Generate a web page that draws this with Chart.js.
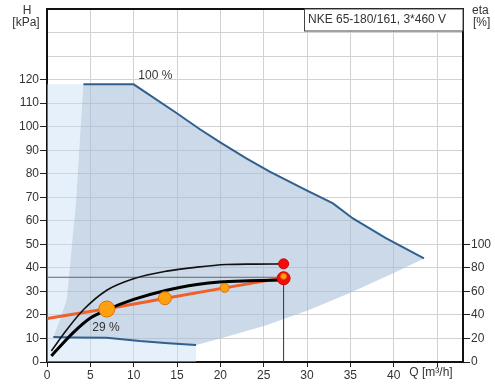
<!DOCTYPE html>
<html>
<head>
<meta charset="utf-8">
<script src="https://cdn.jsdelivr.net/npm/chart.js@4.4.1/dist/chart.umd.min.js"></script>
<style>
  html, body { margin: 0; padding: 0; background: #fff; }
  #wrap { width: 495px; height: 385px; }
</style>
</head>
<body>
<div id="wrap"><canvas id="mycanvas" width="495" height="385"></canvas></div>
<script>
// pump curve data: Q [m3/h], H [kPa]
var maxQ = [4.2, 10, 14.9, 17.6, 19.9, 23.0, 25.7, 29.9, 33.0, 35.3, 39.1, 43.5];
var maxH = [118, 118, 105.9, 99.0, 93.5, 86.5, 80.9, 73, 67.4, 61, 52.6, 44];

var minQ = [0.73, 3, 6.9, 10.7, 14, 17.2];
var minH = [10.6, 10.4, 10.3, 8.9, 8.0, 7.2];

var leftQ = [0.73, 1.5, 2.3, 2.8, 3.35, 3.8, 4.2];
var leftH = [10.6, 18, 27, 47, 68, 95, 118];

var lowQ = [43.5, 40, 35, 30, 25.2, 20, 17.2];
var lowH = [44, 37.8, 29.4, 21.8, 15.5, 10.0, 7.2];

var thinQ = [0.5, 2.3, 4.2, 6.9, 10, 13.8, 17.3, 20.7, 24, 27.3];
var thinH = [4.7, 13.8, 22.2, 30.5, 35.4, 38.6, 40.3, 41.4, 41.6, 41.7];

var thickQ = [0.5, 3, 5, 6.9, 10, 13.8, 17.3, 19.9, 23.4, 27.3];
var thickH = [2.6, 12.4, 18.7, 22.2, 26.6, 30.5, 32.9, 34.0, 34.5, 34.8];

var sysQ = [0, 6.9, 13.7, 20.5, 27.3];
var sysH = [18.5, 22.6, 27.1, 31.5, 35.8];

var dotQ = [6.9, 13.6, 20.5, 27.3];
var dotH = [22.5, 27.1, 31.5, 36.4];
var dotR = [8, 6.5, 4.5, 3];

var redQ = [27.3, 27.3];
var redH = [41.7, 35.6];
var redR = [5, 6.5];

var dutyQ = 27.3;
var dutyH = 36;

var xTicks = [0, 5, 10, 15, 20, 25, 30, 35, 40, 45];
var hLabels = [0, 10, 20, 30, 40, 50, 60, 70, 80, 90, 100, 110, 120];
var etaLabels = [0, 20, 40, 60, 80, 100];

function pts(qs, hs) {
  var out = [];
  for (var i in qs) out.push({x: qs[i], y: hs[i]});
  return out;
}

var darkPoly = pts(leftQ, leftH)
  .concat(pts(maxQ, maxH).slice(1))
  .concat(pts(lowQ, lowH).slice(1))
  .concat(pts(minQ, minH).reverse().slice(1));

var palePoly = [{x: 0, y: 0}, {x: 0, y: 118}]
  .concat(pts(leftQ, leftH).reverse())
  .concat(pts(minQ, minH).slice(1))
  .concat([{x: 17.2, y: 0}]);

var textPlugin = {
  id: 'texts',
  afterDraw: function (chart) {
    var c = chart.ctx, a = chart.chartArea;
    var sx = chart.scales.x, sy = chart.scales.y;
    c.save();
    // top frame line
    c.strokeStyle = '#111';
    c.lineWidth = 2;
    c.beginPath();
    c.moveTo(a.left - 1, a.top);
    c.lineTo(a.right + 1, a.top);
    c.stroke();

    // title box
    c.fillStyle = '#fff';
    c.fillRect(304, a.top, a.right - 304, 22);
    c.lineWidth = 1;
    c.strokeStyle = '#444';
    c.strokeRect(304.5, a.top, a.right - 304.5, 22);

    c.fillStyle = '#333';
    c.font = '12px "Liberation Sans", Arial, sans-serif';
    c.textBaseline = 'middle';
    c.textAlign = 'left';
    c.fillText('NKE 65-180/161, 3*460 V', 308, a.top + 11);

    c.textAlign = 'center';
    c.fillText('H', 27, 11);
    c.fillText('[kPa]', 26, 23);
    c.textAlign = 'left';
    c.fillText('eta', 472, 11);
    c.fillText('[%]', 473, 23);

    c.textAlign = 'center';
    c.fillText('Q [m\u00b3/h]', 431, a.bottom + 11);

    c.fillText('100 %', sx.getPixelForValue(12.5), sy.getPixelForValue(121.5));
    c.fillText('29 %', sx.getPixelForValue(6.8), sy.getPixelForValue(14.4));
    c.restore();
  }
};

var darkTick = '#222';

var chartdata = {
  datasets: [
    {
      label: 'range-pale',
      data: palePoly,
      showLine: true,
      borderWidth: 0,
      pointRadius: 0,
      fill: 'shape',
      backgroundColor: 'rgba(200,222,245,0.45)',
      order: 20
    },
    {
      label: 'range',
      data: darkPoly,
      showLine: true,
      borderWidth: 0,
      pointRadius: 0,
      fill: 'shape',
      backgroundColor: 'rgba(160,186,214,0.55)',
      order: 19
    },
    {
      label: 'duty-h',
      data: [{x: 0, y: dutyH}, {x: dutyQ, y: dutyH}],
      showLine: true,
      borderColor: '#666',
      borderWidth: 1,
      pointRadius: 0,
      order: 15
    },
    {
      label: 'duty-v',
      data: [{x: dutyQ, y: 0}, {x: dutyQ, y: dutyH}],
      showLine: true,
      borderColor: '#333',
      borderWidth: 1,
      pointRadius: 0,
      order: 15
    },
    {
      label: '100 %',
      data: pts(maxQ, maxH),
      showLine: true,
      borderColor: '#30618e',
      borderWidth: 2,
      pointRadius: 0,
      order: 12
    },
    {
      label: '29 %',
      data: pts(minQ, minH),
      showLine: true,
      borderColor: '#30618e',
      borderWidth: 2,
      pointRadius: 0,
      order: 12
    },
    {
      label: 'system',
      data: pts(sysQ, sysH),
      showLine: true,
      borderColor: '#f0602a',
      borderWidth: 3,
      pointRadius: 0,
      cubicInterpolationMode: 'monotone',
      order: 10
    },
    {
      label: 'curve1',
      data: pts(thinQ, thinH),
      showLine: true,
      borderColor: '#111',
      borderWidth: 1.6,
      pointRadius: 0,
      cubicInterpolationMode: 'monotone',
      order: 9
    },
    {
      label: 'curve2',
      data: pts(thickQ, thickH),
      showLine: true,
      borderColor: '#000',
      borderWidth: 3,
      pointRadius: 0,
      cubicInterpolationMode: 'monotone',
      order: 8
    },
    {
      label: 'red',
      data: pts(redQ, redH),
      showLine: false,
      pointRadius: redR,
      pointBackgroundColor: '#f20d0d',
      pointBorderColor: '#d00000',
      pointBorderWidth: 1,
      order: 4
    },
    {
      label: 'dots',
      data: pts(dotQ, dotH),
      showLine: false,
      pointRadius: dotR,
      pointBackgroundColor: '#ffa010',
      pointBorderColor: '#e07000',
      pointBorderWidth: 1,
      order: 2
    }
  ]
};

Chart.defaults.font.family = '"Liberation Sans", Arial, sans-serif';
Chart.defaults.font.size = 12;
Chart.defaults.color = '#333';

var ctx = document.getElementById('mycanvas');

var pumpChart = new Chart(ctx, {
  type: 'scatter',
  data: chartdata,
  plugins: [textPlugin],
  options: {
    responsive: false,
    animation: false,
    events: [],
    layout: { padding: { top: 4, left: 0, right: 0, bottom: 0 } },
    plugins: {
      legend: { display: false },
      tooltip: { enabled: false }
    },
    scales: {
      x: {
        type: 'linear',
        min: 0,
        max: 48,
        afterBuildTicks: function (s) {
          s.ticks = xTicks.map(function (v) { return {value: v}; });
        },
        afterFit: function (s) { s.height = 23; },
        ticks: {
          autoSkip: false,
          maxRotation: 0,
          padding: 1,
          color: '#333',
          callback: function (v) { return v <= 40 ? String(v) : ''; }
        },
        grid: { color: '#d2d2d2', tickColor: darkTick, tickLength: 5 },
        border: { color: '#111', width: 2 }
      },
      y: {
        type: 'linear',
        position: 'left',
        min: 0,
        max: 150,
        afterBuildTicks: function (s) {
          var t = [];
          for (var v = 0; v <= 150; v += 10) t.push({value: v});
          s.ticks = t;
        },
        afterFit: function (s) { s.width = 47; },
        ticks: {
          autoSkip: false,
          padding: 1,
          color: '#333',
          callback: function (v) { return hLabels.indexOf(v) >= 0 ? String(v) : ''; }
        },
        grid: {
          color: '#d2d2d2',
          tickLength: 7,
          tickColor: function (c) { return c.tick && c.tick.value <= 120 ? darkTick : 'rgba(0,0,0,0)'; }
        },
        border: { color: '#111', width: 2 }
      },
      eta: {
        type: 'linear',
        position: 'right',
        min: 0,
        max: 300,
        afterBuildTicks: function (s) {
          s.ticks = etaLabels.map(function (v) { return {value: v}; });
        },
        afterFit: function (s) { s.width = 32; },
        ticks: {
          autoSkip: false,
          padding: 1,
          color: '#333',
          callback: function (v) { return String(v); }
        },
        grid: { drawOnChartArea: false, tickColor: darkTick, tickLength: 7 },
        border: { color: '#111', width: 2 }
      }
    }
  }
});
</script>
</body>
</html>
